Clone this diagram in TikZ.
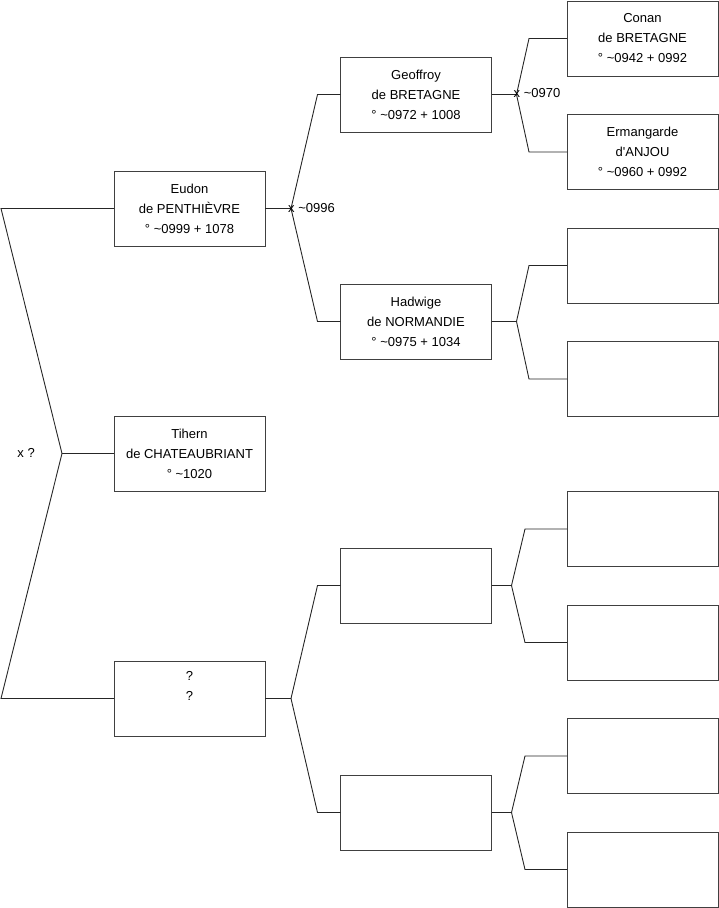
\documentclass[tikz,border=0pt]{standalone}
\usepackage{fontspec}
\setmainfont{Liberation Sans}
\usetikzlibrary{positioning}

\begin{document}
\begin{tikzpicture}[
    x=1pt, y=-1pt,
    node distance=38.5pt,
    pbox/.style={
      rectangle, draw=black!75, line width=0.9pt,
      minimum width=151pt, minimum height=75pt,
      align=center, inner sep=0pt, outer sep=0pt,
      font=\fontsize{13}{20}\selectfont
    },
    link/.style={line width=0.9pt, color=black!85},
    mlabel/.style={font=\fontsize{13}{16}\selectfont, inner sep=0pt}
  ]
    \useasboundingbox (0,0) rectangle (719,908);

    % children
    \node[pbox] (eudon) at (189.5,208.5)
      {Eudon\\de PENTHIÈVRE\\° \textasciitilde0999 + 1078};
    \node[pbox, below=170pt of eudon] (tihern)
      {Tihern\\de CHATEAUBRIANT\\° \textasciitilde1020};
    \node[pbox, below=170pt of tihern] (unk) {?\\?\\\strut};

    % parents
    \node[pbox] (geof) at (416,94.5)
      {Geoffroy\\de BRETAGNE\\° \textasciitilde0972 + 1008};
    \node[pbox, below=152pt of geof] (hadw)
      {Hadwige\\de NORMANDIE\\° \textasciitilde0975 + 1034};
    \node[pbox, below=189pt of hadw] (p5) {};
    \node[pbox, below=152pt of p5] (p6) {};

    % grandparents
    \node[pbox] (conan) at (642.5,38.5)
      {Conan\\de BRETAGNE\\° \textasciitilde0942 + 0992};
    \node[pbox, below=of conan] (ermang)
      {Ermangarde\\d\textquotesingle ANJOU\\° \textasciitilde0960 + 0992};
    \node[pbox, below=of ermang] (g3) {};
    \node[pbox, below=of g3] (g4) {};
    \node[pbox, below=75pt of g4] (g5) {};
    \node[pbox, below=of g5] (g6) {};
    \node[pbox, below=of g6] (g7) {};
    \node[pbox, below=of g7] (g8) {};

    % bracket tips
    \coordinate (m0) at ([xshift=-52]tihern.west);
    \coordinate (m1) at ([xshift=26]eudon.east);
    \coordinate (m2) at ([xshift=25]geof.east);
    \coordinate (m3) at ([xshift=25]hadw.east);
    \coordinate (m4) at ([xshift=26]unk.east);
    \coordinate (m5) at ([xshift=20]p5.east);
    \coordinate (m6) at ([xshift=20]p6.east);

    \draw[link] (eudon.west) -- ++(-113,0) -- (m0)
      -- ([xshift=-113]unk.west) -- (unk.west);
    \draw[link] (m0) -- (tihern.west);

    \draw[link] (eudon.east) -- (m1);
    \draw[link] (geof.west) -- ++(-23,0) -- (m1)
      -- ([xshift=-23]hadw.west) -- (hadw.west);
    \draw[link] (unk.east) -- (m4);
    \draw[link] (p5.west) -- ++(-23,0) -- (m4)
      -- ([xshift=-23]p6.west) -- (p6.west);

    \draw[link] (geof.east) -- (m2);
    \draw[link] (conan.west) -- ++(-38,0) -- (m2)
      -- ([xshift=-38]ermang.west) -- (ermang.west);
    \draw[link] (hadw.east) -- (m3);
    \draw[link] (g3.west) -- ++(-38,0) -- (m3)
      -- ([xshift=-38]g4.west) -- (g4.west);
    \draw[link] (p5.east) -- (m5);
    \draw[link] (g5.west) -- ++(-42,0) -- (m5)
      -- ([xshift=-42]g6.west) -- (g6.west);
    \draw[link] (p6.east) -- (m6);
    \draw[link] (g7.west) -- ++(-42,0) -- (m6)
      -- ([xshift=-42]g8.west) -- (g8.west);

    % marriage labels
    \node[mlabel, anchor=east] (x0) at ([xshift=-27,yshift=1]m0) {x ?};
    \node[mlabel, anchor=west] (x1) at ([xshift=-3]m1) {x \textasciitilde0996};
    \node[mlabel, anchor=west] (x2) at ([xshift=-3,yshift=1]m2) {x \textasciitilde0970};
\end{tikzpicture}
\end{document}
